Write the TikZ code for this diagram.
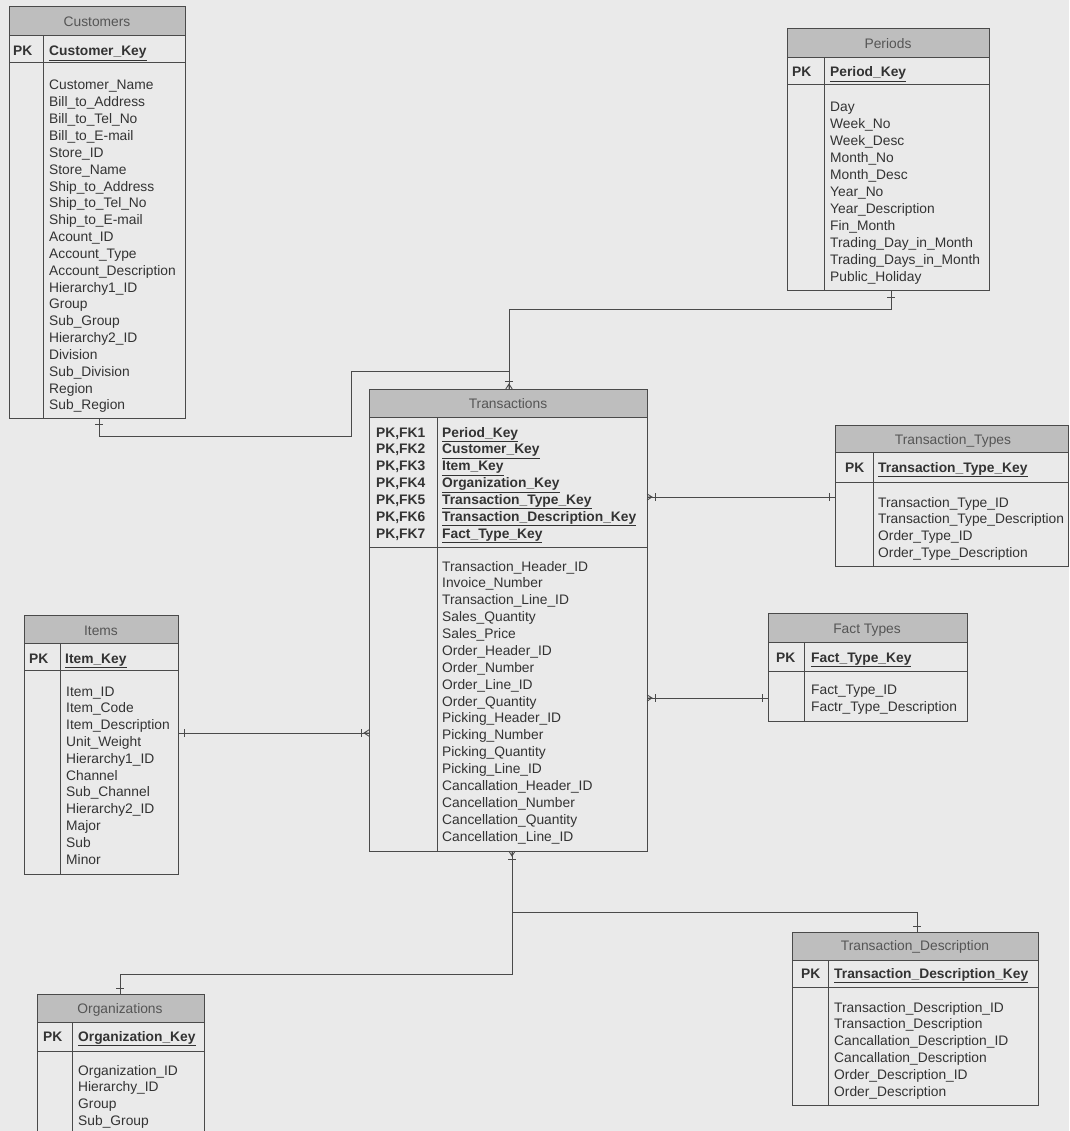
\documentclass[tikz,border=0pt]{standalone}
\usepackage{fontspec}
\setmainfont{Liberation Sans}
\definecolor{paper}{HTML}{EAEAEA}
\definecolor{ink}{HTML}{333333}
\definecolor{headtext}{HTML}{555555}
\definecolor{rule}{HTML}{4A4A4A}
\definecolor{headfill}{HTML}{BEBEBE}
\tikzset{
  frame/.style={draw=rule, line width=1pt},
  tbl/.style={frame, rectangle, inner sep=0pt, outer sep=0pt, anchor=north west},
  hdr/.style={font=\fontsize{13.8}{16}\selectfont, text=headtext, anchor=base, inner sep=0pt},
  fld/.style={font=\fontsize{13.8}{16}\selectfont, text=ink, anchor=base west, inner sep=0pt},
  keyf/.style={font=\fontsize{13.8}{16}\selectfont\bfseries, text=ink, anchor=base west, inner sep=0pt},
  conn/.style={draw=rule, line width=0.85pt},
  pics/crowfoot/.style={code={
    \draw[conn] (0,-3.2) -- (5,0) -- (0,3.2) (0,0) -- (5,0);
    \draw[conn] (8,-3.8) -- (8,3.8);}},
  pics/onetick/.style={code={\draw[conn] (6,-3.8) -- (6,3.8);}}
}
% entity frame: name, left, top, right, bottom, header rule, key rule, column divider
\newcommand\erbox[8]{%
  \fill[headfill] (#2,#3) rectangle (#4,#6);
  \draw[frame] (#2,#6) -- (#4,#6) (#2,#7) -- (#4,#7) (#8,#6) -- (#8,#5);
  \node[tbl, minimum width={#4-#2}, minimum height={#5-#3}] (#1) at (#2,#3) {};
}
\begin{document}
\begin{tikzpicture}[x=1pt,y=-1pt]
\path[use as bounding box, fill=paper] (0,0) rectangle (1069,1131);
\clip (0,0) rectangle (1069,1131);

% ---------------- Customers
\erbox{cust}{9}{7}{185}{418}{36}{63}{43}
\node[hdr] (cust-t) at (97,27) {Customers};
\node[keyf] (cust-pk) at (13,56) {PK};
\node[keyf] (cust-k) at (49,56) {\underline{Customer\_Key}};
\foreach \t [count=\i from 0] in {Customer\_Name, Bill\_to\_Address, Bill\_to\_Tel\_No,
  Bill\_to\_E-mail, Store\_ID, Store\_Name, Ship\_to\_Address, Ship\_to\_Tel\_No,
  Ship\_to\_E-mail, Acount\_ID, Account\_Type, Account\_Description, Hierarchy1\_ID,
  Group, Sub\_Group, Hierarchy2\_ID, Division, Sub\_Division, Region, Sub\_Region}
  \node[fld] (cust-a\i) at (49,{90+\i*16.84}) {\t};

% ---------------- Periods
\erbox{per}{787}{29}{989}{291}{58}{85}{824}
\node[hdr] (per-t) at (888,49) {Periods};
\node[keyf] (per-pk) at (792,77) {PK};
\node[keyf] (per-k) at (830,77) {\underline{Period\_Key}};
\foreach \t [count=\i from 0] in {Day, Week\_No, Week\_Desc, Month\_No, Month\_Desc,
  Year\_No, Year\_Description, Fin\_Month, Trading\_Day\_in\_Month,
  Trading\_Days\_in\_Month, Public\_Holiday}
  \node[fld] (per-a\i) at (830,{112+\i*17}) {\t};

% ---------------- Transactions
\erbox{tr}{369}{389}{647}{851}{417}{547}{437}
\node[hdr] (tr-t) at (508,408) {Transactions};
\foreach \t [count=\i from 1] in {Period\_Key, Customer\_Key, Item\_Key, Organization\_Key,
  Transaction\_Type\_Key, Transaction\_Description\_Key, Fact\_Type\_Key}{
  \node[keyf] (tr-pk\i) at (376,{437+(\i-1)*16.85}) {PK,FK\i};
  \node[keyf] (tr-k\i) at (442,{437+(\i-1)*16.85}) {\underline{\t}};
}
\foreach \t [count=\i from 0] in {Transaction\_Header\_ID, Invoice\_Number,
  Transaction\_Line\_ID, Sales\_Quantity, Sales\_Price, Order\_Header\_ID, Order\_Number,
  Order\_Line\_ID, Order\_Quantity, Picking\_Header\_ID, Picking\_Number,
  Picking\_Quantity, Picking\_Line\_ID, Cancallation\_Header\_ID, Cancellation\_Number,
  Cancellation\_Quantity, Cancellation\_Line\_ID}
  \node[fld] (tr-a\i) at (442,{571+\i*16.875}) {\t};

% ---------------- Transaction_Types
\erbox{ttype}{835}{425}{1068}{566}{452}{482}{873}
\node[hdr] (ttype-t) at (953,444) {Transaction\_Types};
\node[keyf] (ttype-pk) at (845,472) {PK};
\node[keyf] (ttype-k) at (878,472) {\underline{Transaction\_Type\_Key}};
\foreach \t [count=\i from 0] in {Transaction\_Type\_ID, Transaction\_Type\_Description,
  Order\_Type\_ID, Order\_Type\_Description}
  \node[fld] (ttype-a\i) at (878,{507+\i*16.7}) {\t};

% ---------------- Fact Types
\erbox{fact}{768}{613}{967}{721}{642}{671}{804}
\node[hdr] (fact-t) at (867,633) {Fact Types};
\node[keyf] (fact-pk) at (776,662) {PK};
\node[keyf] (fact-k) at (811,662) {\underline{Fact\_Type\_Key}};
\node[fld] (fact-a0) at (811,694) {Fact\_Type\_ID};
\node[fld] (fact-a1) at (811,711.5) {Factr\_Type\_Description};

% ---------------- Items
\erbox{items}{24}{615}{178}{874}{643}{670}{60}
\node[hdr] (items-t) at (101,635) {Items};
\node[keyf] (items-pk) at (29,663) {PK};
\node[keyf] (items-k) at (65,663) {\underline{Item\_Key}};
\foreach \t [count=\i from 0] in {Item\_ID, Item\_Code, Item\_Description, Unit\_Weight,
  Hierarchy1\_ID, Channel, Sub\_Channel, Hierarchy2\_ID, Major, Sub, Minor}
  \node[fld] (items-a\i) at (66,{696+\i*16.8}) {\t};

% ---------------- Organizations
\erbox{org}{37}{994}{204}{1140}{1022}{1051}{72}
\node[hdr] (org-t) at (120,1013) {Organizations};
\node[keyf] (org-pk) at (43,1041) {PK};
\node[keyf] (org-k) at (78,1041) {\underline{Organization\_Key}};
\foreach \t [count=\i from 0] in {Organization\_ID, Hierarchy\_ID, Group, Sub\_Group}
  \node[fld] (org-a\i) at (78,{1075+\i*16.7}) {\t};

% ---------------- Transaction_Description
\erbox{tdesc}{792}{932}{1038}{1105}{960}{987}{828}
\node[hdr] (tdesc-t) at (915,950) {Transaction\_Description};
\node[keyf] (tdesc-pk) at (801,978) {PK};
\node[keyf] (tdesc-k) at (834,978) {\underline{Transaction\_Description\_Key}};
\foreach \t [count=\i from 0] in {Transaction\_Description\_ID, Transaction\_Description,
  Cancallation\_Description\_ID, Cancallation\_Description, Order\_Description\_ID,
  Order\_Description}
  \node[fld] (tdesc-a\i) at (834,{1012+\i*16.9}) {\t};

% ---------------- relationships
\draw[conn] (per.south -| 891,0) -- (891,309) -| (tr.north -| 509,0);
\draw[conn] (cust.south -| 99,0) |- (351,436) |- (509,371) -- (tr.north -| 509,0);
\draw[conn] (items.east |- 0,733) -- (tr.west |- 0,733);
\draw[conn] (tr.east |- 0,497) -- (ttype.west |- 0,497);
\draw[conn] (tr.east |- 0,698) -- (fact.west |- 0,698);
\coordinate (fork) at (512,912);
\draw[conn] (tr.south -| 512,0) -- (512,974) -| (org.north -| 120,0);
\draw[conn] (fork) -| (tdesc.north -| 917,0);

% many ends at Transactions
\pic[rotate=90] at (tr.north -| 509,0) {crowfoot};
\pic[rotate=180] at (tr.west |- 0,733) {crowfoot};
\pic at (tr.east |- 0,497) {crowfoot};
\pic at (tr.east |- 0,698) {crowfoot};
\pic[rotate=270] at (tr.south -| 512,0) {crowfoot};
% one ends at the lookup tables
\pic[rotate=270] at (per.south -| 891,0) {onetick};
\pic[rotate=270] at (cust.south -| 99,0) {onetick};
\pic at (items.east |- 0,733) {onetick};
\pic[rotate=180] at (ttype.west |- 0,497) {onetick};
\pic[rotate=180] at (fact.west |- 0,698) {onetick};
\pic[rotate=90] at (org.north -| 120,0) {onetick};
\pic[rotate=90] at (tdesc.north -| 917,0) {onetick};
\end{tikzpicture}
\end{document}
